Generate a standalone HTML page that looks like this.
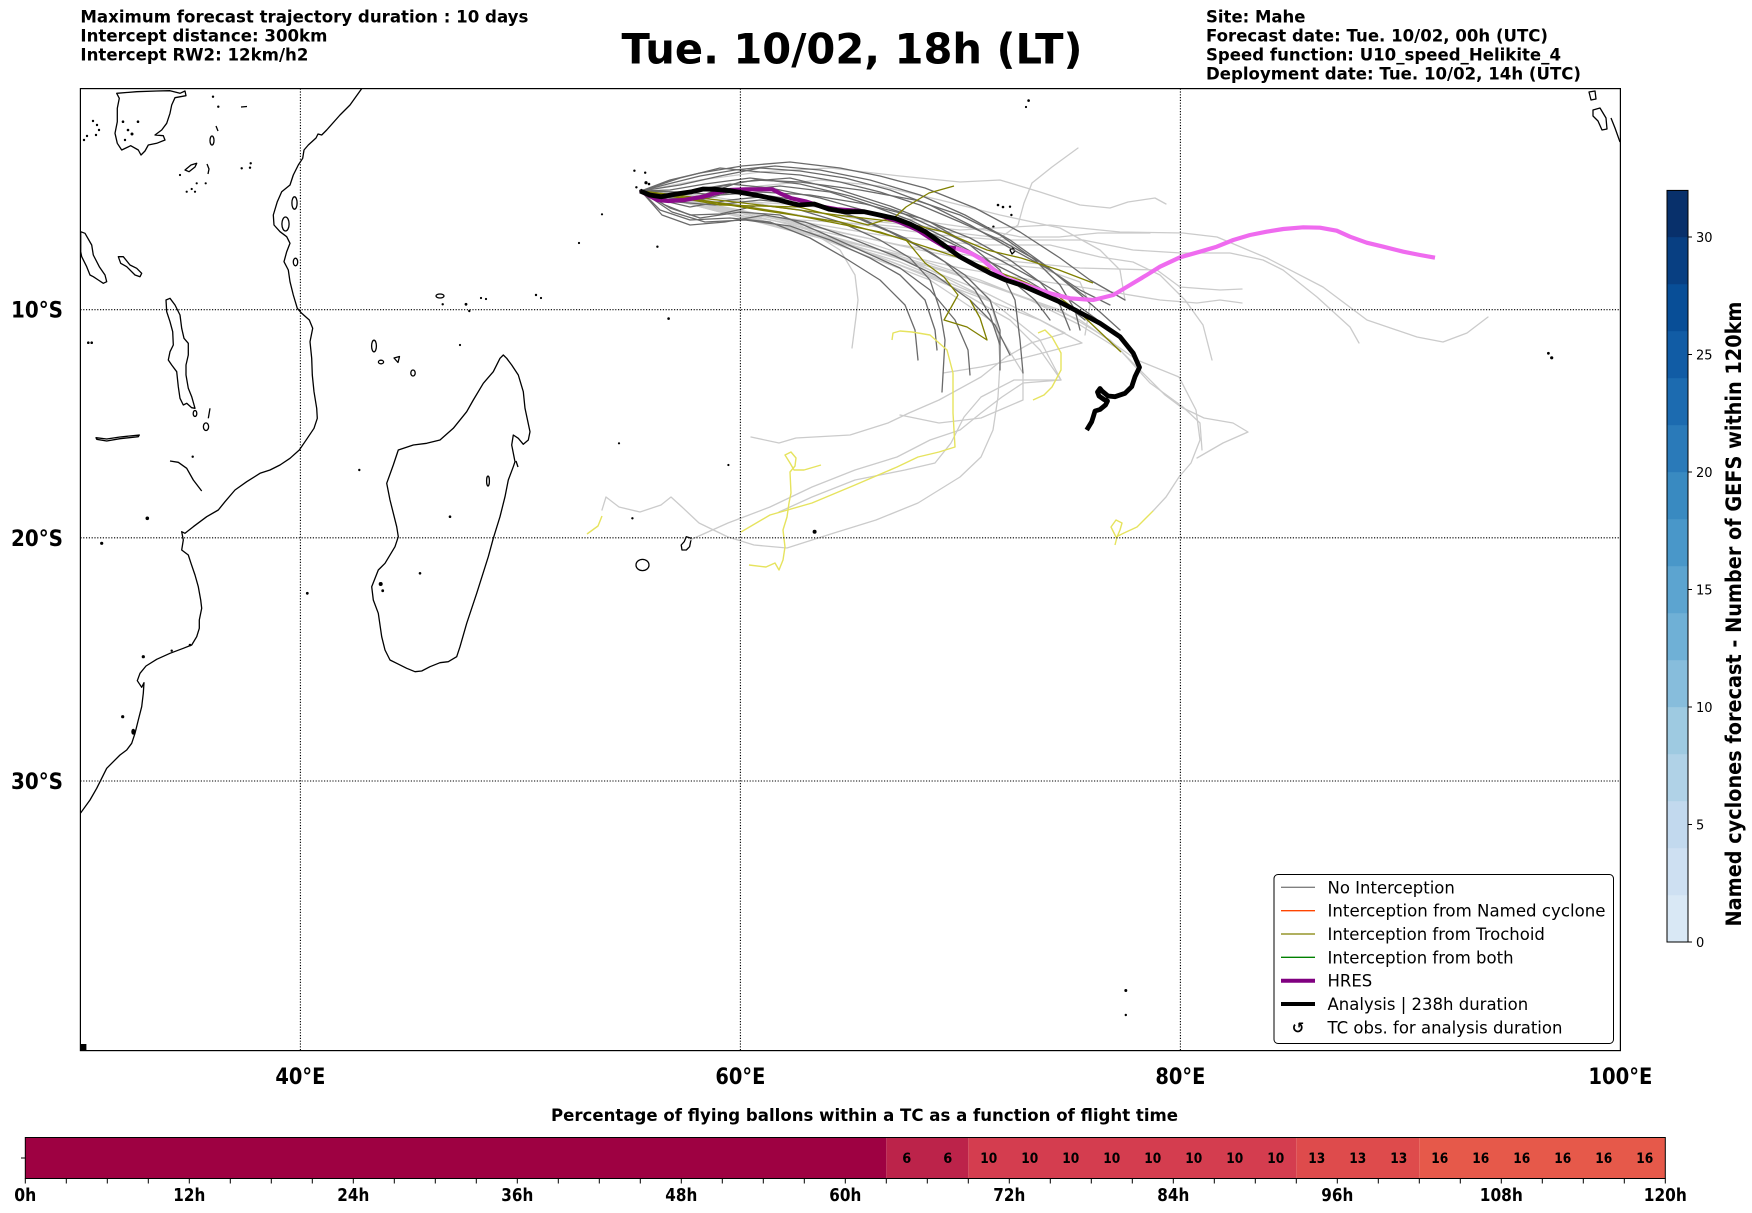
<!DOCTYPE html>
<html><head><meta charset="utf-8"><style>
html,body{margin:0;padding:0;background:#fff;}
svg{display:block;}
text{font-family:"DejaVu Sans","Liberation Sans",sans-serif;}
.b{font-weight:bold;}
.coast{fill:none;stroke:#000;stroke-width:1.3;stroke-linejoin:round;}
.grid{stroke:#000;stroke-width:1.1;stroke-dasharray:1.2,1.6;fill:none;}
.lg{fill:none;stroke:#cbcbcb;stroke-width:1.3;stroke-linejoin:round;stroke-linecap:round;}
.dg{fill:none;stroke:#6a6a6a;stroke-width:1.3;stroke-linejoin:round;stroke-linecap:round;}
.ol{fill:none;stroke:#808000;stroke-width:1.3;stroke-linejoin:round;}
.ye{fill:none;stroke:#e6e35e;stroke-width:1.4;stroke-linejoin:round;}
</style></head><body>
<svg width="1752" height="1213" viewBox="0 0 1752 1213" xmlns="http://www.w3.org/2000/svg">
<rect width="1752" height="1213" fill="#fff"/>

<!-- header -->
<g class="b" font-size="16.5" font-weight="bold">
<text x="80.4" y="22.5" textLength="448" lengthAdjust="spacingAndGlyphs">Maximum forecast trajectory duration : 10 days</text>
<text x="80.4" y="41.5" textLength="247" lengthAdjust="spacingAndGlyphs">Intercept distance: 300km</text>
<text x="80.4" y="60.5" textLength="228" lengthAdjust="spacingAndGlyphs">Intercept RW2: 12km/h2</text>
<text x="1206" y="22.5" textLength="99.5" lengthAdjust="spacingAndGlyphs">Site: Mahe</text>
<text x="1206" y="41.5" textLength="342" lengthAdjust="spacingAndGlyphs">Forecast date: Tue. 10/02, 00h (UTC)</text>
<text x="1206" y="60.5" textLength="355" lengthAdjust="spacingAndGlyphs">Speed function: U10_speed_Helikite_4</text>
<text x="1206" y="79.5" textLength="375" lengthAdjust="spacingAndGlyphs">Deployment date: Tue. 10/02, 14h (UTC)</text>
</g>
<text x="852" y="63.5" font-size="42" font-weight="bold" text-anchor="middle" textLength="461" lengthAdjust="spacingAndGlyphs">Tue. 10/02, 18h (LT)</text>

<defs><clipPath id="mc"><rect x="80.4" y="88.6" width="1540" height="962"/></clipPath></defs>

<g clip-path="url(#mc)">
<!-- coastlines -->
<polyline class="coast" points="361.7,88.6 350,105 340,115 326.7,130 321.7,135 318,134 316,138 308.3,145 304,150 302.7,158.3 298.3,165 293.3,175 290,185 281.7,191.7 277.3,201.7 273.3,215 274,225 280,231.7 286.7,236.7 290,243.3 286.7,251.7 284,261.7 288.3,270 290,281.7 293.3,295 297.3,308.3 301.7,313.3 309.3,320 312.7,328.3 310,341.7 311.7,358.3 312.3,375 314,391.7 316.7,408.3 317.3,418.3 314,428.3 307.3,438.3 299.3,450 290,458.3 280,465 270,470 260,473.3 246.7,481.7 235,490 225,501.7 218.3,510 206.7,516.7 193.3,526.7 185,533.3 181.7,531.7 183.3,540 181.7,550 188.3,555 191,563.3 195,575 198.3,586.7 200.7,600 201.7,608.3 199.3,620 199.3,628.3 196.7,636.7 191.7,645 183.3,648.3 170,653.3 156.7,659.3 146,666 140,673.3 137.3,680.7 141.7,687.3 144,682.7 143.3,693.3 141.7,706.7 138.3,720 135,733.3 131.7,743.3 126.7,750 120,755 113.3,761.7 106.7,768.3 101.7,778.3 96.7,788.3 90,800 80.4,813.3"/>
<!-- Madagascar -->
<polygon class="coast" points="503.3,355 500,358.3 493.3,371.7 483.3,383.3 473.3,400 466.7,411.7 453.3,428.3 440,440 426.7,443.3 413.3,445 398.3,450 393.3,465 386.7,483.3 390,500 396.7,526.7 398.3,536.7 395,546.7 385,563.3 378.3,570 371.7,586.7 373.3,600 378.3,613.3 381.7,636.7 385,650 390,660 396.7,663.3 406.7,668.3 415,671.7 421.7,671 430,666.7 440,662.7 448.3,661.7 456.7,656.7 460,646.7 466.7,623.3 476.7,593.3 488.3,556.7 493.3,538.3 500,516.7 505,496.7 508.3,480 513.3,466.7 515,461.7 511.7,445 513.3,435 518.3,438.3 523.3,444.3 528.3,440 530,431.7 525,408.3 523.3,391.7 518.3,375 511.7,365 506.7,358.3"/>
<!-- lakes -->
<polygon class="coast" points="116.7,93.3 136.7,91.7 156.7,91 170,90.7 180,93.3 185,91 186,95.7 175,97.7 171.7,105 170,113.3 166.7,123.3 161.7,130 155,135 163.3,135.7 165,140 156.7,143.3 148.3,145 145,151 141,155 138.3,150 130.7,145.7 121.7,150 117.3,143.3 115,133.3 117.3,121.7 117.3,108.3 119.3,98.3"/>
<polygon class="coast" points="80.7,231.7 85,233.3 91.7,245 93.3,255 99.3,266.7 105,275 106.7,281.7 103.3,283.3 98.3,280 93.3,276.7 90,275 86.7,266.7 81.7,256.7 80.7,251.7"/>
<polygon class="coast" points="118.3,256.7 123.3,256.7 130,265 136.7,268.3 141.7,273.3 140,276.7 135,275 126.7,266.7 120.7,263.3"/>
<polygon class="coast" points="166,300 170,298.3 175,305 180,315 181.7,328.3 184,338.3 188.3,343.3 188.3,355 186,365 186,375 188.3,388.3 191.7,396.7 195,408.3 191.7,407.7 186.7,403.3 183.3,405 180,398.3 178.3,386.7 176.7,371.7 171.7,365 168.3,360 170,351.7 173.3,345 172.7,331.7 170,321.7 166.7,311.7"/>
<polygon class="coast" points="96,437.7 106.7,439 120,437 139.3,435 138.3,436.7 120,438.7 106.7,441 96.7,439.3"/>
<polyline class="coast" points="170,461 178.3,462.3 186.7,468.3 193.3,480 201.7,491"/>
<polyline class="coast" points="210,408.3 208.3,418.3"/>
<ellipse class="coast" cx="195" cy="413.5" rx="1.8" ry="3"/>
<ellipse class="coast" cx="206" cy="426.7" rx="2.6" ry="3.8"/>
<ellipse class="coast" cx="212" cy="140.5" rx="2" ry="4.5"/>
<polygon class="coast" points="185,170 191,165 196.7,163.3 195,167 189,171.7"/>
<polyline class="coast" points="207,164 209,169 208,174"/>
<polyline class="coast" points="216,126 218,131"/>
<polyline class="coast" points="241,107 247,106.5"/>
<!-- islands -->
<ellipse class="coast" cx="285.5" cy="224" rx="3.6" ry="7"/>
<ellipse class="coast" cx="294.5" cy="203" rx="2.6" ry="6.2"/>
<ellipse class="coast" cx="295.5" cy="262" rx="2.2" ry="3.8"/>
<ellipse class="coast" cx="374" cy="346" rx="2.4" ry="5.8"/>
<ellipse class="coast" cx="381" cy="362" rx="2.6" ry="1.8"/>
<polygon class="coast" points="394,358 399.5,356.5 398,362.5"/>
<ellipse class="coast" cx="413" cy="373" rx="2.2" ry="3"/>
<ellipse class="coast" cx="440" cy="296" rx="4" ry="2"/>
<ellipse class="coast" cx="488" cy="481" rx="1.4" ry="5"/>
<polyline class="coast" points="516,461 518,467"/>
<polygon class="coast" points="686.3,536.7 691.3,538.3 689.6,546.7 686.3,550 682,550 681.2,545 684.2,541.7"/>
<ellipse class="coast" cx="642.5" cy="565" rx="6.5" ry="5.6"/>
<polygon class="coast" points="1593,110 1600,108 1606,118 1607,129 1602,130 1598,121 1593,116"/>
<polyline class="coast" points="1611,118 1615,128 1620,142"/>
<polygon class="coast" points="1589,92 1595,91 1596,99 1591,100"/>
<polyline class="coast" points="1012,247 1015,251 1012,254 1010,250 1013,248"/>
<g fill="#000">
<circle cx="123" cy="121.7" r="1.3"/><circle cx="138" cy="121.7" r="1.3"/>
<circle cx="93" cy="121" r="1.2"/><circle cx="97" cy="125" r="1.2"/><circle cx="99" cy="130" r="1.2"/><circle cx="96" cy="135" r="1.2"/><circle cx="84" cy="140" r="1.2"/><circle cx="87" cy="136" r="1.2"/>
<circle cx="128" cy="130" r="1.3"/><circle cx="132" cy="134" r="1.5"/><circle cx="125" cy="140" r="1.2"/>
<circle cx="213" cy="96.7" r="1.2"/><circle cx="218.3" cy="106.7" r="1.2"/>
<circle cx="241.7" cy="168.3" r="1.2"/><circle cx="250" cy="167.7" r="1.2"/><circle cx="250.7" cy="163.3" r="1.2"/>
<circle cx="180" cy="175" r="1.1"/><circle cx="196.7" cy="183.3" r="1.1"/><circle cx="205.7" cy="183.3" r="1.1"/><circle cx="186.7" cy="191.7" r="1.1"/><circle cx="191.7" cy="189" r="1.1"/><circle cx="195" cy="191.7" r="1.1"/>
<circle cx="88.3" cy="342.7" r="1.3"/><circle cx="91.7" cy="342.7" r="1.3"/>
<circle cx="192.7" cy="456.7" r="1.2"/><circle cx="147.3" cy="518.3" r="1.8"/><circle cx="101.7" cy="543.3" r="1.6"/>
<circle cx="143.3" cy="656.7" r="1.6"/><circle cx="171.7" cy="650.7" r="1.2"/><circle cx="190" cy="645" r="1.3"/>
<ellipse cx="133.3" cy="731.7" rx="2" ry="3"/><circle cx="122.7" cy="716.7" r="1.6"/>
<circle cx="307.3" cy="593.3" r="1.4"/><circle cx="359.3" cy="470" r="1.2"/><circle cx="460" cy="345" r="1.1"/>
<circle cx="442.7" cy="304.3" r="1.2"/><circle cx="466" cy="304.3" r="1.4"/><circle cx="469.3" cy="311" r="1.2"/><circle cx="481" cy="298" r="1.1"/><circle cx="486" cy="299" r="1.1"/><circle cx="536" cy="295" r="1.2"/><circle cx="541" cy="298" r="1.1"/>
<circle cx="420" cy="573.3" r="1.3"/><circle cx="380.7" cy="584" r="2"/><circle cx="382.7" cy="590.7" r="1.4"/><circle cx="450" cy="516.7" r="1.3"/>
<circle cx="634.4" cy="170.7" r="1.2"/><circle cx="645.2" cy="172.7" r="1.2"/><circle cx="646" cy="182.7" r="1.6"/><circle cx="649" cy="184" r="1.3"/><circle cx="636.4" cy="187.3" r="1.2"/><circle cx="641" cy="191" r="1.8"/>
<circle cx="657.4" cy="246.7" r="1.2"/><circle cx="602" cy="214.3" r="1.1"/><circle cx="579" cy="243" r="1.1"/><circle cx="619" cy="443.3" r="1.1"/><circle cx="668.6" cy="318.6" r="1.3"/>
<circle cx="728.4" cy="465" r="1.1"/><circle cx="814.6" cy="531.7" r="2"/><circle cx="632.4" cy="518.3" r="1.2"/>
<circle cx="998" cy="205" r="1.3"/><circle cx="1003" cy="207" r="1.3"/><circle cx="1010" cy="206.7" r="1.2"/><circle cx="1011.4" cy="215" r="1.2"/><circle cx="988.4" cy="228.3" r="1.3"/><circle cx="993.4" cy="226.7" r="1.2"/>
<circle cx="1028.6" cy="100.6" r="1.3"/><circle cx="1026" cy="107" r="1.1"/>
<circle cx="1548.4" cy="353.3" r="1.4"/><circle cx="1551.7" cy="357.8" r="1.6"/>
<circle cx="1125.8" cy="990.5" r="1.5"/><circle cx="1125.8" cy="1015" r="1.2"/>
<rect x="80.4" y="1044" width="6" height="7"/>
</g>

<!-- light gray trajectories -->
<polyline class="lg" points="641,191 720,210 800,220 880,225 950,232 1000,238 1018,225 1024,203 1032,183 1052,167 1078,148"/>
<polyline class="lg" points="641,191 700,180 760,172 830,168 900,176 960,182 1000,180 1040,192 1080,205 1110,208 1128,202 1155,198 1166,204"/>
<polyline class="lg" points="641,191 720,200 800,205 880,215 950,225 985,230 1021,237 1059,237 1098,233 1150,233"/>
<polyline class="lg" points="641,191 720,198 800,210 880,222 960,230 1050,225 1120,232 1183,233 1217,237 1267,258 1323,287 1367,320 1417,337 1443,342 1467,333 1488,317"/>
<polyline class="lg" points="641,191 740,205 840,222 940,235 1000,240 1050,240 1083,240 1133,250 1181,253 1230,253 1263,260 1283,270 1317,297 1350,327 1359,343"/>
<polyline class="lg" points="641,191 760,215 880,235 980,245 1050,245 1100,257 1133,262 1160,275 1185,300 1203,325 1212,360"/>
<polyline class="lg" points="641,191 780,220 900,245 1000,260 1080,268 1157,270 1180,287 1220,290 1242,289"/>
<polyline class="lg" points="641,191 760,222 880,250 960,268 1000,275 1100,290 1160,300 1197,303 1220,300 1242,303"/>
<polyline class="lg" points="641,191 720,212 800,225 840,250 855,275 858,300 856,317 852,348"/>
<polyline class="lg" points="641,191 760,220 880,250 960,275 1030,300 1080,325 1120,350 1150,383 1183,407 1200,423 1202,450"/>
<polyline class="lg" points="641,191 780,228 900,258 990,285 1060,310 1110,340 1140,370 1165,395 1181,407 1204,418 1233,423 1248,432 1223,443 1197,458"/>
<polyline class="lg" points="641,191 780,222 880,250 980,290 1040,320 1065,333 1031,343 1006,357 981,377 939,400 909,413 888,423 850,435 796,438 779,443 751,437"/>
<polyline class="lg" points="641,191 790,228 900,262 990,300 1040,340 1061,380 1023,383 1002,397 981,413 960,430 930,440 897,457 855,470 812,487 770,507 728,523 690,540"/>
<polyline class="lg" points="641,191 800,230 920,265 990,300 998,330 1000,363 998,397 993,430 981,457 960,477 918,503 876,520 834,533 787,548 754,545 728,537 699,523 682,507 671,497 661,505 640,512 619,507 606,497 602,510"/>
<polyline class="lg" points="641,191 820,235 940,280 1010,320 1040,350 1061,380 1014,380 981,397 964,417 951,443 935,463 905,470 855,480 812,497 779,512"/>
<polyline class="lg" points="641,191 820,238 930,280 990,320 1023,373 1023,400 981,418 939,423 900,415"/>
<polyline class="lg" points="641,191 850,245 960,290 1040,320 1082,343 1023,358 981,367 943,373"/>
<polyline class="lg" points="641,191 860,240 980,280 1080,320 1137,360 1179,377 1196,410 1200,440 1191,463 1179,477 1166,497 1153,511"/>
<polyline class="lg" points="641,191 700,195 760,186 820,180 880,186 940,200 1000,215 1060,228 1100,250 1120,270 1125,300"/>
<polyline class="lg" points="641,191 740,210 840,232 920,250 980,262 1040,268 1080,282 1090,305 1085,335"/>

<!-- dark gray trajectories -->
<polyline class="dg" points="641,191 680,178 720,168 760,172 800,175 840,182 880,192 920,205 960,222 1000,240 1040,262 1070,285 1090,300"/>
<polyline class="dg" points="641,191 670,198 700,200 740,190 780,186 830,192 870,205 910,220 950,240 990,262 1030,282 1060,300 1085,320"/>
<polyline class="dg" points="641,191 665,205 690,215 720,214 760,205 800,210 840,222 880,240 910,258 930,280 940,310 945,340 942,392"/>
<polyline class="dg" points="641,191 670,208 700,218 740,212 780,215 820,232 860,250 900,268 930,290 955,320 968,350 970,375"/>
<polyline class="dg" points="641,191 668,200 700,196 740,182 790,178 840,190 890,206 930,222 970,245 1000,270 1015,300 1020,340 1023,373"/>
<polyline class="dg" points="641,191 660,200 690,207 730,200 770,196 810,202 850,215 890,232 930,252 965,275 990,300 1000,330 1000,370"/>
<polyline class="dg" points="641,191 680,185 720,176 760,168 800,171 845,178 890,190 930,205 970,225 1010,248 1050,270 1080,290 1110,305"/>
<polyline class="dg" points="641,191 670,190 705,184 750,178 800,184 850,196 900,212 950,235 1000,260 1040,282 1070,300 1095,318 1115,335"/>
<polyline class="dg" points="641,191 672,212 705,222 745,220 790,226 830,240 870,258 900,275 925,300 935,330 937,350"/>
<polyline class="dg" points="641,191 675,195 712,188 755,180 800,182 860,190 915,200 960,215 1000,235 1035,260 1060,285 1075,310 1080,330"/>
<polyline class="dg" points="641,191 668,184 700,176 735,170 775,166 820,170 870,180 920,195 965,215 1010,240 1045,265 1075,290 1100,312 1120,330"/>
<polyline class="dg" points="641,191 676,202 715,205 760,200 810,205 860,218 905,238 945,262 975,290 990,315 1000,345"/>
<polyline class="dg" points="641,191 680,192 720,195 760,192 810,195 865,204 920,218 970,238 1010,260 1040,282 1060,305 1070,330"/>
<polyline class="dg" points="641,191 670,180 700,173 742,166 790,162 840,168 880,176 925,188 975,208 1020,232 1060,258 1090,280 1125,300"/>
<polyline class="dg" points="641,191 660,210 690,220 730,218 770,222 810,238 845,258 880,280 905,305 915,330 918,360"/>
<polyline class="dg" points="641,191 665,196 695,190 730,184 770,188 820,198 870,212 920,228 965,250 1005,275 1035,300 1050,320"/>
<polyline class="dg" points="641,191 662,215 690,225 725,222 765,215 805,222 850,238 895,256 935,275 970,300 995,325 1010,355"/>

<!-- olive -->
<polyline class="ol" points="641,191 720,205 799,207 830,215 868,225 895,217 906,207 929,193 954,186"/>
<polyline class="ol" points="641,191 760,205 837,215 906,223 944,232 987,250 1021,258 1059,270 1093,283"/>
<polyline class="ol" points="641,191 760,210 840,222 906,240 925,263 944,277 958,295 944,320 967,327 987,340 980,318 970,300"/>
<polyline class="ol" points="641,191 780,212 880,232 960,258 1020,280 1059,297 1080,313 1100,332 1121,352"/>

<!-- yellow -->
<polyline class="ye" points="892,340 893,333 900,331 912,332 930,335 947,350 953,373 953,413 955,447 939,452 918,457 897,467 855,485 812,503 770,515 741,532"/>
<polyline class="ye" points="821,465 804,470 794,470 790,463 785,455 791,452 796,458 795,466 790,472 791,493 789,503 787,517 783,530 785,547 783,560 779,570 775,563 766,567 749,565"/>
<polyline class="ye" points="1038,333 1045,330 1052,337 1061,353 1061,370 1052,387 1044,395 1033,400"/>
<polyline class="ye" points="1153,511 1137,527 1124,533 1116,537 1111,527 1116,520 1122,523 1120,530 1117,537 1115,545"/>
<polyline class="ye" points="587,534 598,526 602,516"/>

<!-- HRES -->
<polyline fill="none" stroke="#8a0a8a" stroke-width="4.2" stroke-linejoin="round" points="640.2,191 657.4,200 668.9,201 684.2,200 703.3,196.7 714.8,193.3 730.1,190 745.4,189.3 760.7,189.3 772.2,189.3 779.9,193.3 791.4,198.3 806.7,201.7 822,206.7 837.3,209.3 860.2,211 879.4,215 898.5,221.7 917.6,230 933,240 944.4,246.7 955.9,248.3"/>
<polyline fill="none" stroke="#ef6bef" stroke-width="4.2" stroke-linejoin="round" points="955.9,248.3 971.2,253.3 982.7,260 994.2,270 1005.7,278.3 1021,283.3 1040.1,290 1050,293.3 1070,298.3 1093.3,300 1113.3,295 1130,285 1146.7,275 1160,266.7 1180,257.3 1200,251.7 1216.7,246.7 1233.3,240 1250,235 1266.7,231.7 1283.3,229 1303.3,227.3 1320,227.7 1336.7,230.7 1350,236.7 1366.7,242.7 1383.3,246.7 1403.3,251.7 1420,255 1435,257.7"/>
<!-- Analysis -->
<polyline fill="none" stroke="#000" stroke-width="4.8" stroke-linejoin="round" points="640.2,191 649.8,195 661.2,196.7 676.5,194 691.8,191.7 703.3,189 714.8,189.3 730.1,190.7 745.4,193.3 760.7,196 776,199.3 791.4,203.3 799,205 814.3,204 829.6,209.3 844.9,211.7 864,211.7 879.4,215 894.7,218.3 910,224 925.3,231.7 936.8,240 948.3,248.3 959.7,256.7 975,265 990.4,273.3 1005.7,280 1021,285 1040.1,293.3 1059.2,301.7 1078.4,311.7 1100,323.3 1120,336.7 1133.3,353.3 1139.5,367.3 1135,376.7 1131.7,386.7 1125,393.3 1115,396.7 1108,396 1102,391 1100,388.5 1097.5,392 1099,396 1104,399.5 1107.5,401 1105.5,405 1100,409.5 1095,411 1093.3,416.7 1091.7,421.7 1086.7,430"/>

<!-- gridlines -->
<line class="grid" x1="300.4" y1="88.6" x2="300.4" y2="1050.6"/>
<line class="grid" x1="740.4" y1="88.6" x2="740.4" y2="1050.6"/>
<line class="grid" x1="1180.4" y1="88.6" x2="1180.4" y2="1050.6"/>
<line class="grid" x1="80.4" y1="309.7" x2="1620.4" y2="309.7"/>
<line class="grid" x1="80.4" y1="537.8" x2="1620.4" y2="537.8"/>
<line class="grid" x1="80.4" y1="781" x2="1620.4" y2="781"/>
</g>

<!-- legend -->
<rect x="1274" y="874.5" width="339.5" height="169" rx="4" ry="4" fill="#fff" stroke="#000" stroke-width="1"/>
<line x1="1281" y1="887.3" x2="1315" y2="887.3" stroke="#808080" stroke-width="1.3"/>
<line x1="1281" y1="910.7" x2="1315" y2="910.7" stroke="#ff4500" stroke-width="1.3"/>
<line x1="1281" y1="934" x2="1315" y2="934" stroke="#808000" stroke-width="1.3"/>
<line x1="1281" y1="957.3" x2="1315" y2="957.3" stroke="#008000" stroke-width="1.3"/>
<line x1="1281" y1="980.7" x2="1315" y2="980.7" stroke="#800080" stroke-width="4"/>
<line x1="1281" y1="1004" x2="1315" y2="1004" stroke="#000" stroke-width="4"/>
<text x="1298" y="1033" font-size="15" font-weight="bold" text-anchor="middle">↺</text>
<g font-size="16.5">
<text x="1327.5" y="893.3">No Interception</text>
<text x="1327.5" y="916.7" textLength="278" lengthAdjust="spacingAndGlyphs">Interception from Named cyclone</text>
<text x="1327.5" y="940">Interception from Trochoid</text>
<text x="1327.5" y="963.3">Interception from both</text>
<text x="1327.5" y="986.7">HRES</text>
<text x="1327.5" y="1010">Analysis | 238h duration</text>
<text x="1327.5" y="1033.3">TC obs. for analysis duration</text>
</g>

<!-- map frame -->
<rect x="80.4" y="88.6" width="1540" height="962" fill="none" stroke="#000" stroke-width="1.2"/>

<!-- axis labels -->
<g font-size="22" font-weight="bold" text-anchor="middle">
<text x="300.4" y="1084" textLength="50" lengthAdjust="spacingAndGlyphs">40°E</text>
<text x="740.4" y="1084" textLength="50" lengthAdjust="spacingAndGlyphs">60°E</text>
<text x="1180.4" y="1084" textLength="50" lengthAdjust="spacingAndGlyphs">80°E</text>
<text x="1620.4" y="1084" textLength="64" lengthAdjust="spacingAndGlyphs">100°E</text>
</g>
<g font-size="22" font-weight="bold" text-anchor="end">
<text x="63" y="317.7" textLength="52" lengthAdjust="spacingAndGlyphs">10°S</text>
<text x="63" y="545.8" textLength="52" lengthAdjust="spacingAndGlyphs">20°S</text>
<text x="63" y="789" textLength="52" lengthAdjust="spacingAndGlyphs">30°S</text>
</g>

<!-- colorbar -->
<g>
<rect x="1667" y="895" width="21" height="47" fill="#d9e8f5"/>
<rect x="1667" y="848" width="21" height="47.2" fill="#cee0f2"/>
<rect x="1667" y="801" width="21" height="47.2" fill="#c2d9ee"/>
<rect x="1667" y="754" width="21" height="47.2" fill="#b0d2e7"/>
<rect x="1667" y="707" width="21" height="47.2" fill="#9ecae1"/>
<rect x="1667" y="660" width="21" height="47.2" fill="#87bddc"/>
<rect x="1667" y="613" width="21" height="47.2" fill="#6fb0d6"/>
<rect x="1667" y="566" width="21" height="47.2" fill="#5ca4d0"/>
<rect x="1667" y="519" width="21" height="47.2" fill="#4997c9"/>
<rect x="1667" y="472" width="21" height="47.2" fill="#398ac1"/>
<rect x="1667" y="425" width="21" height="47.2" fill="#2a7ab9"/>
<rect x="1667" y="378" width="21" height="47.2" fill="#1c6bb0"/>
<rect x="1667" y="331" width="21" height="47.2" fill="#115ca5"/>
<rect x="1667" y="284" width="21" height="47.2" fill="#084e97"/>
<rect x="1667" y="237" width="21" height="47.2" fill="#083f82"/>
<rect x="1667" y="190.4" width="21" height="46.8" fill="#08306b"/>
<rect x="1667" y="190.4" width="21" height="751.6" fill="none" stroke="#000" stroke-width="1"/>
<g stroke="#000" stroke-width="1">
<line x1="1688" y1="942" x2="1692" y2="942"/><line x1="1688" y1="824.5" x2="1692" y2="824.5"/>
<line x1="1688" y1="707" x2="1692" y2="707"/><line x1="1688" y1="589.5" x2="1692" y2="589.5"/>
<line x1="1688" y1="472" x2="1692" y2="472"/><line x1="1688" y1="354.5" x2="1692" y2="354.5"/>
<line x1="1688" y1="237" x2="1692" y2="237"/>
</g>
<g font-size="13">
<text x="1696" y="947">0</text><text x="1696" y="829.5">5</text><text x="1696" y="712">10</text>
<text x="1696" y="594.5">15</text><text x="1696" y="477">20</text><text x="1696" y="359.5">25</text><text x="1696" y="242">30</text>
</g>
<text transform="translate(1741,614) rotate(-90)" font-size="21.5" font-weight="bold" text-anchor="middle" textLength="625" lengthAdjust="spacingAndGlyphs">Named cyclones forecast - Number of GEFS within 120km</text>
</g>

<!-- bottom bar -->
<text x="551" y="1121" font-size="16.5" font-weight="bold" textLength="627" lengthAdjust="spacingAndGlyphs">Percentage of flying ballons within a TC as a function of flight time</text>
<rect x="25.3" y="1137.5" width="861" height="41" fill="#9e0142"/>
<rect x="886.3" y="1137.5" width="82" height="41" fill="#bc234a"/>
<rect x="968.3" y="1137.5" width="328" height="41" fill="#d43d4f"/>
<rect x="1296.3" y="1137.5" width="123" height="41" fill="#de4b4c"/>
<rect x="1419.3" y="1137.5" width="246" height="41" fill="#e6594a"/>
<rect x="25.3" y="1137.5" width="1640" height="41" fill="none" stroke="#000" stroke-width="1"/>
<line x1="21" y1="1158" x2="25.3" y2="1158" stroke="#000" stroke-width="1"/>
<g font-size="14" font-weight="bold" text-anchor="middle">
<text x="906.8" y="1163" textLength="9" lengthAdjust="spacingAndGlyphs">6</text>
<text x="947.8" y="1163" textLength="9" lengthAdjust="spacingAndGlyphs">6</text>
<text x="988.8" y="1163" textLength="17" lengthAdjust="spacingAndGlyphs">10</text>
<text x="1029.8" y="1163" textLength="17" lengthAdjust="spacingAndGlyphs">10</text>
<text x="1070.8" y="1163" textLength="17" lengthAdjust="spacingAndGlyphs">10</text>
<text x="1111.8" y="1163" textLength="17" lengthAdjust="spacingAndGlyphs">10</text>
<text x="1152.8" y="1163" textLength="17" lengthAdjust="spacingAndGlyphs">10</text>
<text x="1193.8" y="1163" textLength="17" lengthAdjust="spacingAndGlyphs">10</text>
<text x="1234.8" y="1163" textLength="17" lengthAdjust="spacingAndGlyphs">10</text>
<text x="1275.8" y="1163" textLength="17" lengthAdjust="spacingAndGlyphs">10</text>
<text x="1316.8" y="1163" textLength="17" lengthAdjust="spacingAndGlyphs">13</text>
<text x="1357.8" y="1163" textLength="17" lengthAdjust="spacingAndGlyphs">13</text>
<text x="1398.8" y="1163" textLength="17" lengthAdjust="spacingAndGlyphs">13</text>
<text x="1439.8" y="1163" textLength="17" lengthAdjust="spacingAndGlyphs">16</text>
<text x="1480.8" y="1163" textLength="17" lengthAdjust="spacingAndGlyphs">16</text>
<text x="1521.8" y="1163" textLength="17" lengthAdjust="spacingAndGlyphs">16</text>
<text x="1562.8" y="1163" textLength="17" lengthAdjust="spacingAndGlyphs">16</text>
<text x="1603.8" y="1163" textLength="17" lengthAdjust="spacingAndGlyphs">16</text>
<text x="1644.8" y="1163" textLength="17" lengthAdjust="spacingAndGlyphs">16</text>
</g>
<g stroke="#000" stroke-width="1">
<line x1="25.3" y1="1178.5" x2="25.3" y2="1183.5"/><line x1="66.3" y1="1178.5" x2="66.3" y2="1183.5"/><line x1="107.3" y1="1178.5" x2="107.3" y2="1183.5"/><line x1="148.3" y1="1178.5" x2="148.3" y2="1183.5"/>
<line x1="189.3" y1="1178.5" x2="189.3" y2="1183.5"/><line x1="230.3" y1="1178.5" x2="230.3" y2="1183.5"/><line x1="271.3" y1="1178.5" x2="271.3" y2="1183.5"/><line x1="312.3" y1="1178.5" x2="312.3" y2="1183.5"/>
<line x1="353.3" y1="1178.5" x2="353.3" y2="1183.5"/><line x1="394.3" y1="1178.5" x2="394.3" y2="1183.5"/><line x1="435.3" y1="1178.5" x2="435.3" y2="1183.5"/><line x1="476.3" y1="1178.5" x2="476.3" y2="1183.5"/>
<line x1="517.3" y1="1178.5" x2="517.3" y2="1183.5"/><line x1="558.3" y1="1178.5" x2="558.3" y2="1183.5"/><line x1="599.3" y1="1178.5" x2="599.3" y2="1183.5"/><line x1="640.3" y1="1178.5" x2="640.3" y2="1183.5"/>
<line x1="681.3" y1="1178.5" x2="681.3" y2="1183.5"/><line x1="722.3" y1="1178.5" x2="722.3" y2="1183.5"/><line x1="763.3" y1="1178.5" x2="763.3" y2="1183.5"/><line x1="804.3" y1="1178.5" x2="804.3" y2="1183.5"/>
<line x1="845.3" y1="1178.5" x2="845.3" y2="1183.5"/><line x1="886.3" y1="1178.5" x2="886.3" y2="1183.5"/><line x1="927.3" y1="1178.5" x2="927.3" y2="1183.5"/><line x1="968.3" y1="1178.5" x2="968.3" y2="1183.5"/>
<line x1="1009.3" y1="1178.5" x2="1009.3" y2="1183.5"/><line x1="1050.3" y1="1178.5" x2="1050.3" y2="1183.5"/><line x1="1091.3" y1="1178.5" x2="1091.3" y2="1183.5"/><line x1="1132.3" y1="1178.5" x2="1132.3" y2="1183.5"/>
<line x1="1173.3" y1="1178.5" x2="1173.3" y2="1183.5"/><line x1="1214.3" y1="1178.5" x2="1214.3" y2="1183.5"/><line x1="1255.3" y1="1178.5" x2="1255.3" y2="1183.5"/><line x1="1296.3" y1="1178.5" x2="1296.3" y2="1183.5"/>
<line x1="1337.3" y1="1178.5" x2="1337.3" y2="1183.5"/><line x1="1378.3" y1="1178.5" x2="1378.3" y2="1183.5"/><line x1="1419.3" y1="1178.5" x2="1419.3" y2="1183.5"/><line x1="1460.3" y1="1178.5" x2="1460.3" y2="1183.5"/>
<line x1="1501.3" y1="1178.5" x2="1501.3" y2="1183.5"/><line x1="1542.3" y1="1178.5" x2="1542.3" y2="1183.5"/><line x1="1583.3" y1="1178.5" x2="1583.3" y2="1183.5"/><line x1="1624.3" y1="1178.5" x2="1624.3" y2="1183.5"/>
<line x1="1665.3" y1="1178.5" x2="1665.3" y2="1183.5"/>
</g>
<g font-size="18" font-weight="bold" text-anchor="middle">
<text x="25.3" y="1201" textLength="22" lengthAdjust="spacingAndGlyphs">0h</text>
<text x="189.3" y="1201" textLength="32" lengthAdjust="spacingAndGlyphs">12h</text>
<text x="353.3" y="1201" textLength="32" lengthAdjust="spacingAndGlyphs">24h</text>
<text x="517.3" y="1201" textLength="32" lengthAdjust="spacingAndGlyphs">36h</text>
<text x="681.3" y="1201" textLength="32" lengthAdjust="spacingAndGlyphs">48h</text>
<text x="845.3" y="1201" textLength="32" lengthAdjust="spacingAndGlyphs">60h</text>
<text x="1009.3" y="1201" textLength="32" lengthAdjust="spacingAndGlyphs">72h</text>
<text x="1173.3" y="1201" textLength="32" lengthAdjust="spacingAndGlyphs">84h</text>
<text x="1337.3" y="1201" textLength="32" lengthAdjust="spacingAndGlyphs">96h</text>
<text x="1501.3" y="1201" textLength="43" lengthAdjust="spacingAndGlyphs">108h</text>
<text x="1665.3" y="1201" textLength="43" lengthAdjust="spacingAndGlyphs">120h</text>
</g>
</svg>
</body></html>
